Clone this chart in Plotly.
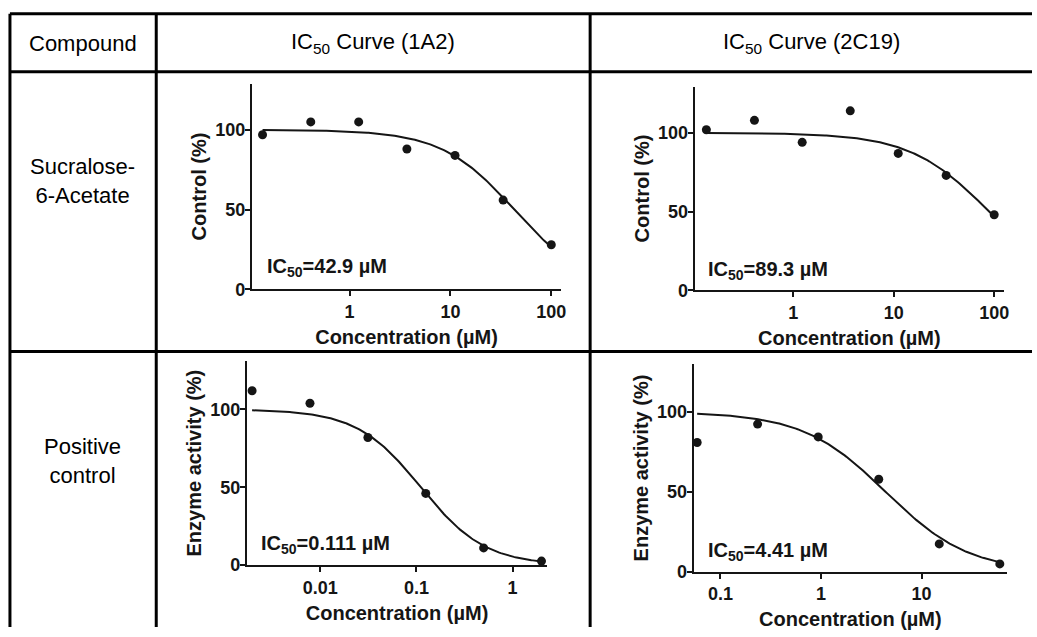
import numpy as np
import plotly.graph_objects as go

# ---------------- data ----------------
col_headers = ["Compound", "IC<sub>50</sub> Curve (1A2)", "IC<sub>50</sub> Curve (2C19)"]
row_labels = ["Sucralose-<br>6-Acetate", "Positive<br>control"]

conc_s6a_1a2 = [0.137, 0.412, 1.23, 3.70, 11.1, 33.3, 100]
resp_s6a_1a2 = [97, 105, 105, 88, 84, 56, 28]

conc_s6a_2c19 = [0.137, 0.412, 1.23, 3.70, 11.1, 33.3, 100]
resp_s6a_2c19 = [102, 108, 94, 114, 87, 73, 48]

conc_pos_1a2 = [0.00195, 0.0078, 0.03125, 0.125, 0.5, 2.0]
resp_pos_1a2 = [112, 104, 82, 46, 11, 2.5]

conc_pos_2c19 = [0.0586, 0.234, 0.9375, 3.75, 15, 60]
resp_pos_2c19 = [81, 92.5, 84.5, 58, 17.5, 5]

ic50_values = [42.9, 89.3, 0.111, 4.41]
hill_slopes = [1.2, 1.1, 1.3, 1.05]
fit_top = 100
fit_bottom = 0
ic50_labels = ["IC<sub>50</sub>=42.9 µM", "IC<sub>50</sub>=89.3 µM",
               "IC<sub>50</sub>=0.111 µM", "IC<sub>50</sub>=4.41 µM"]

y_titles = ["Control (%)", "Control (%)", "Enzyme activity (%)", "Enzyme activity (%)"]
x_title = "Concentration (µM)"
x_tickvals = [[1, 10, 100], [1, 10, 100], [0.01, 0.1, 1], [0.1, 1, 10]]
x_ticktext = [["1", "10", "100"], ["1", "10", "100"], ["0.01", "0.1", "1"], ["0.1", "1", "10"]]
y_tickvals = [0, 50, 100]
y_ticktext = ["0", "50", "100"]

# ---------------- layout geometry (pixels) ----------------
W, H = 1037, 637
def px(x):
    return x / W
def py(y):
    return 1 - y / H

# (left, right, top, bottom) in px, x range (log10), y max
panels = [
    dict(box=(253, 564, 85, 294), xr=[-0.970, 2.099], ymax=129.0, ann=(266, 272)),
    dict(box=(698, 1009, 88, 295), xr=[-0.980, 2.099], ymax=129.4, ann=(709, 275)),
    dict(box=(248, 550, 367, 574), xr=[-2.765, 0.362], ymax=131.0, ann=(260, 553)),
    dict(box=(697, 1012, 370, 581), xr=[-1.267, 1.851], ymax=130.0, ann=(709, 560)),
]

datasets = [
    (conc_s6a_1a2, resp_s6a_1a2),
    (conc_s6a_2c19, resp_s6a_2c19),
    (conc_pos_1a2, resp_pos_1a2),
    (conc_pos_2c19, resp_pos_2c19),
]

FONT = "Liberation Sans, Arial, Helvetica, sans-serif"
INK = "#151515"

fig = go.Figure()
annotations = []

for i, (p, (cx, cy)) in enumerate(zip(panels, datasets)):
    n = "" if i == 0 else str(i + 1)
    xa, ya = "x" + n, "y" + n
    # fitted four-parameter logistic curve from the reported IC50
    xs = np.logspace(np.log10(cx[0]), np.log10(cx[-1]), 200)
    ys = fit_bottom + (fit_top - fit_bottom) / (1 + (xs / ic50_values[i]) ** hill_slopes[i])
    fig.add_trace(go.Scatter(x=xs, y=ys, mode="lines", xaxis=xa, yaxis=ya,
                             line=dict(color=INK, width=2), showlegend=False,
                             hoverinfo="skip", cliponaxis=False))
    fig.add_trace(go.Scatter(x=cx, y=cy, mode="markers", xaxis=xa, yaxis=ya,
                             marker=dict(color=INK, size=9), showlegend=False,
                             cliponaxis=False))
    l, r, t, b = p["box"]
    axis_common = dict(showline=True, linecolor=INK, linewidth=2, ticks="outside",
                       ticklen=5, tickwidth=2, tickcolor=INK, showgrid=False,
                       zeroline=False, tickfont=dict(family=FONT, size=18, color=INK, weight="bold"))
    fig.update_layout(**{
        ("xaxis" + n): dict(domain=[px(l), px(r)], anchor=ya, type="log", range=p["xr"],
                            tickvals=x_tickvals[i], ticktext=x_ticktext[i],
                            title=dict(text=x_title, standoff=9,
                                       font=dict(family=FONT, size=20, color=INK, weight="bold")),
                            **axis_common),
        ("yaxis" + n): dict(domain=[py(b), py(t)], anchor=xa, range=[0, p["ymax"]],
                            tickvals=y_tickvals, ticktext=y_ticktext, ticklabelstandoff=-4,
                            title=dict(text=y_titles[i], standoff=3,
                                       font=dict(family=FONT, size=20, color=INK, weight="bold")),
                            **axis_common),
    })
    ax_, ay_ = p["ann"]
    annotations.append(dict(text=ic50_labels[i], x=px(ax_), y=py(ay_), xref="paper", yref="paper",
                            xanchor="left", yanchor="middle", showarrow=False,
                            font=dict(family=FONT, size=20, color=INK, weight="bold")))

# table text
header_x = [83, 375, 815]
for t, hx in zip(col_headers, header_x):
    annotations.append(dict(text=t, x=px(hx), y=py(44), xref="paper", yref="paper",
                            showarrow=False, xanchor="center", yanchor="middle",
                            font=dict(family=FONT, size=22, color="#000")))
row_y = [184, 468]
for t, ry in zip(row_labels, row_y):
    annotations.append(dict(text=t, x=px(83), y=py(ry), xref="paper", yref="paper",
                            showarrow=False, xanchor="center", yanchor="middle",
                            font=dict(family=FONT, size=22, color="#000")))

# table lines
shapes = []
line_style = dict(color="#000", width=3)
for yy in [14, 73, 357]:
    shapes.append(dict(type="line", xref="paper", yref="paper", x0=px(10), x1=1.0,
                       y0=py(yy), y1=py(yy), line=line_style))
for xx in [10, 157, 593]:
    shapes.append(dict(type="line", xref="paper", yref="paper", x0=px(xx), x1=px(xx),
                       y0=py(14), y1=0.0, line=line_style))

fig.update_layout(width=W, height=H, margin=dict(l=0, r=0, t=0, b=0),
                  paper_bgcolor="white", plot_bgcolor="white",
                  annotations=annotations, shapes=shapes, showlegend=False,
                  font=dict(family=FONT, color=INK))

fig.write_html("out.html", config={"displayModeBar": False},
               post_script="document.body.style.margin='0';document.body.style.overflow='hidden';")
